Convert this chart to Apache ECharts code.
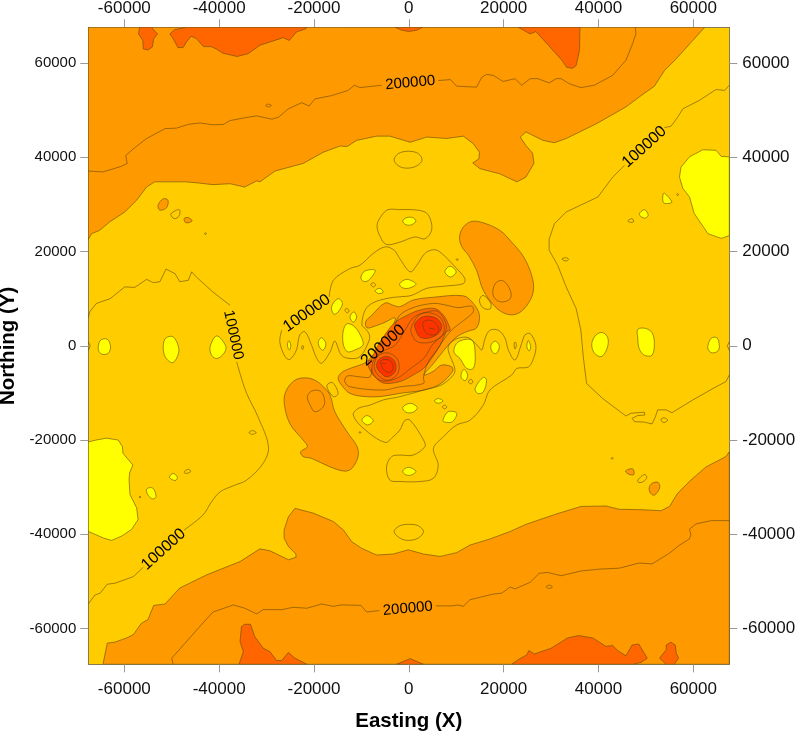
<!DOCTYPE html>
<html>
<head>
<meta charset="utf-8">
<title>Contour map</title>
<script src="https://cdn.jsdelivr.net/npm/echarts@6/dist/echarts.min.js"></script>
<style>
html, body { margin: 0; padding: 0; background: #fff; }
#chart { width: 796px; height: 731px; }
</style>
</head>
<body>
<div id="chart"></div>
<script>
// contour outlines, [easting, northing] in thousands
const AXIS_LIMIT = 67600
const tickValues = [-60000, -40000, -20000, 0, 20000, 40000, 60000]

// 150000 band and blobs
const orangePatches = [
    [[-67.6,22.6],[-66.9,23.8],[-65.2,24.5],[-63.1,26.3],[-59.9,28.4],[-57.4,30.9],[-55.3,33.7],[-53.6,34.8],[-50.4,34.8],[-47.2,34.8],[-44.8,34.6],[-41.3,34.2],[-37.7,34.4],[-34.6,33.7],[-32.1,35],[-31.4,34.8],[-28.2,37.1],[-22.3,38.7],[-18,41.1],[-14.5,42.4],[-13,42.3],[-11,43.6],[-6.8,44.5],[-4,44.5],[0.3,43.2],[3.8,44.3],[8,44],[11.5,44.5],[13.6,42.9],[14.9,41.1],[14.8,39.7],[13.5,38.8],[15,37.6],[19.2,36.5],[22.8,34.8],[24.7,35.8],[26.4,38.7],[26.1,40.9],[24.7,42.5],[23.5,44.3],[24.7,45.4],[28.3,43.6],[30.7,43.1],[33.2,44],[39.5,47.1],[45.8,50.7],[49,53.1],[51.8,55.1],[53.9,58.4],[56.4,60.9],[62.4,67.6],[-67.6,67.6]],
    [[-64.5,-67.6],[-63.6,-63.1],[-62,-62.9],[-59.5,-62],[-58.1,-61.3],[-56.4,-58.9],[-55,-58.1],[-53.8,-55.1],[-51.4,-54.8],[-48.3,-51.4],[-42.6,-48.6],[-35.6,-45.8],[-31.4,-43.1],[-29.3,-43.5],[-25.4,-45.4],[-23.8,-44.9],[-23.8,-44.2],[-25.4,-42.6],[-26.3,-40.8],[-26.3,-39.1],[-25.4,-36.3],[-24,-34.5],[-20.2,-35.5],[-15.9,-37.3],[-13.8,-39.1],[-12,-41.6],[-9.9,-43],[-6.8,-44.4],[-3.3,-44.2],[-0.1,-43.3],[3.1,-44.2],[6.6,-44.7],[10.1,-43.9],[12.9,-42.3],[17.1,-41],[21.4,-39.4],[24.7,-37.9],[31.1,-35.7],[36.3,-34.1],[41.6,-34],[44.4,-34.7],[49.4,-34.8],[53.2,-35],[55,-34.1],[56.7,-31.3],[59.5,-28.5],[62.7,-25.7],[65.2,-24.4],[66.9,-23.5],[67.6,-22.5],[67.6,-67.6]],
    // blob right of centre
    [[10.7,23.1],[11.5,25.2],[13.3,26.4],[15.7,26.1],[19.2,24.5],[21.7,22],[24.2,18.9],[25.9,15],[26.3,11.8],[25.2,9],[23.1,6.9],[20.7,6.7],[18.2,8.3],[15.7,11.8],[14.3,16],[12.6,19.2],[11.2,21]],
    // blob left of centre
    [[-26.3,-11.9],[-25.8,-9.4],[-24,-7.3],[-21.9,-6.8],[-19.8,-7.3],[-18,-8.7],[-16.6,-10.5],[-15.6,-14],[-12.8,-18.6],[-10.9,-21.4],[-10.7,-23.5],[-12,-26],[-13.5,-26.6],[-16.6,-25.7],[-20.5,-23.9],[-22.3,-23.5],[-22.8,-22.5],[-21.4,-21.4],[-22.3,-20],[-25.1,-16.5]],
    // centre
    [[-14.9,-6.9],[-14.2,-5.7],[-12.4,-4.8],[-9.2,-3.6],[-7.8,-2.2],[-5.7,0.1],[-4,2.9],[-2.9,5.9],[-5,5],[-7.1,4.2],[-8.8,3.8],[-9.1,5.1],[-7.8,6.5],[-5,9.1],[-3.3,8.6],[-1.9,8.3],[0.9,9.7],[5.2,10.3],[11.5,10.6],[13.6,9],[14.9,6.5],[14.3,3.8],[12.5,3.1],[10.4,2.1],[8.3,0.1],[6.6,-2],[4.9,-4.1],[3.2,-6.2],[5.2,-5.4],[6.9,-4.1],[9.1,-4.5],[9.2,-5.5],[6.6,-8.1],[3.1,-9.4],[-1.9,-10.1],[-5.4,-10.7],[-8.9,-10.8],[-12.4,-10.1],[-14.2,-8.3]],
    // small islands
    [[-52.9,29.8],[-51.8,31.2],[-50.8,30.9],[-51.1,29.3],[-52.5,28.8]],
    [[-47.4,27],[-46.5,27.2],[-45.7,26.5],[-47,26.1]],
    [[45.7,-26.6],[47.2,-26.1],[47.5,-27.3],[46.5,-27.3]],
    [[50.7,-30.2],[51.3,-29.2],[52.6,-29],[52.9,-30.2],[51.8,-31.7],[51,-31.3]]
]

// 250000 areas
const darkOrangePatches = [
    [[-56.8,67.6],[-57,66.2],[-56.1,64.8],[-56,63],[-55,62.8],[-54.1,63.4],[-53.8,65.2],[-53,66.2],[-54.3,67.6]],
    [[-50.4,66.2],[-49.7,65.2],[-48.7,63.3],[-47.6,63.3],[-46.9,64.5],[-45.9,65.7],[-44.8,65.2],[-43.3,63.5],[-41.7,63.5],[-40.6,63],[-39.2,62.1],[-36.2,61.4],[-33.9,62],[-32.2,63.2],[-31.4,63.8],[-26.5,65.4],[-25.2,64.8],[-23.7,66.6],[-21.7,67.3],[-21.5,67.6],[-46.9,67.6],[-49.4,67.1]],
    [[-2.9,67.6],[-1.5,67],[0,66.7],[1.7,67],[2.9,67.6]],
    [[23.1,67.6],[25.6,66.2],[26.8,66.7],[28.9,64.4],[32.3,60.6],[33.3,59.1],[34.6,58.9],[35.3,59.5],[36,62.7],[36.1,67.6]],
    [[-35.8,-67.6],[-34.9,-64.9],[-35.6,-62.8],[-35.3,-59.6],[-34.6,-59.1],[-33.4,-59.1],[-32.5,-61.7],[-30.7,-64.2],[-29.3,-64.9],[-27.9,-66.8],[-26.8,-66.8],[-25.4,-65.1],[-24,-66.3],[-21.5,-67.6]],
    [[-2.6,-67.6],[0.3,-66.4],[3.1,-67.6]],
    [[21.7,-67.6],[23.1,-66.6],[24.9,-65.6],[25.3,-64.7],[26.5,-65.4],[30,-64.2],[33.5,-62],[35.8,-61.5],[38.8,-62],[41.6,-63.8],[43,-63.6],[44.1,-64.7],[45.8,-65.8],[47.1,-63.5],[48.5,-63.3],[50.3,-66.3],[49,-67.2],[47.2,-67.6]],
    [[52.9,-66.3],[54.3,-64.5],[54.3,-63.5],[55.3,-62.9],[56.2,-63.5],[56.4,-65.2],[56.9,-66.3],[56,-67.6],[54.3,-67.6]],
    [[2.4,7.6],[5.5,7.9],[7.3,6.5],[8.3,4.7],[8.7,3.3],[8,3],[6.6,0.1],[4.8,-2.7],[3.1,-4.8],[0.9,-6.2],[-1.9,-7.6],[-5.4,-7.9],[-7.3,-6.4],[-8.4,-4.7],[-8.6,-3.2],[-8,-3],[-6.6,-0.1],[-4.8,2.7],[-3.1,4.8],[-0.9,6.2]]
]

// peaks
const redPatches = [
    [[1.3,4.7],[3.1,6.2],[5.7,5.9],[6.9,4.4],[6.5,2.9],[4.5,1.7],[2.4,1.8],[1.5,3.3]],
    [[-6.8,-4.1],[-6.1,-2.7],[-4.3,-2.3],[-2.9,-3.4],[-2.9,-5.5],[-4.7,-6.6],[-6.4,-5.2]]
]

// lowest areas
const yellowPatches = [
    [[67.6,40.1],[65.9,40.2],[64.8,41.5],[62,41.6],[59.2,40.1],[57.4,37.9],[57.1,35.8],[57.8,33.4],[59.2,31.6],[60.2,28.1],[63.1,23.8],[65.9,22.8],[67.6,23.4]],
    [[-67.6,-20.4],[-65.9,-20],[-63.8,-19.6],[-61.3,-20],[-60.4,-21.4],[-60.3,-22.8],[-58.2,-25.3],[-58.9,-27],[-59,-28.5],[-58.9,-30.2],[-58.8,-31.6],[-57.4,-34.4],[-57.1,-36.9],[-58.5,-39],[-60.6,-40.4],[-62.7,-41.3],[-64.4,-40.8],[-67.6,-39.4]],
    [[38.6,0.5],[39.5,2.3],[40.9,2.8],[42,1.6],[41.8,-0.6],[40.6,-2.3],[39.1,-1.5]],
    [[48.3,3.5],[49.9,3.7],[51.3,2.8],[51.8,0.5],[51.3,-2],[49.7,-2],[48.6,-0.6],[48.3,1.6]],
    [[63.1,0.1],[63.8,1.6],[65,1.7],[65.5,0.1],[65.2,-1.1],[64,-1.5],[63.2,-0.9]],
    [[-65.5,-0.2],[-65,1.2],[-63.6,1.4],[-62.9,-0.2],[-63.4,-1.6],[-64.6,-1.8],[-65.3,-1.3]],
    [[-51.8,-0.2],[-51.3,1.6],[-49.7,1.9],[-48.5,-0.6],[-49,-2.7],[-50,-3.6],[-51.4,-2.3]],
    [[-41.9,-0.2],[-40.5,2.1],[-38.6,-0.1],[-39,-1.6],[-40.5,-2.7],[-41.6,-2]],
    [[53.6,32],[53.9,32.4],[55.5,30.5],[54.6,30.2],[53.7,30.4]],
    [[48.6,27.9],[49.7,28.9],[50.5,27.7],[49.7,27.1]],
    [[-55.3,-30.4],[-54,-30.2],[-53.3,-32],[-54,-32.5],[-55,-31.7]],
    [[-50.5,-27.9],[-49.7,-27.1],[-48.8,-27.9],[-49.3,-28.6]],
    [[-1.3,26.5],[-0.4,27.2],[0.8,27.2],[1.5,26.5],[0.6,25.7],[-0.6,25.7]],
    [[7.6,15.7],[8.7,16.9],[10,15.7],[8.8,14.6]],
    [[-1.9,13.2],[-0.4,14.1],[1.5,13.1],[-0.1,12.2],[-1.5,12.4]],
    [[-10.1,14.6],[-9.2,15.9],[-7.1,16],[-8.5,13.9],[-9.6,13.7]],
    [[-7.1,11.7],[-6.1,12.2],[-5.4,11.4],[-6.4,11.1]],
    [[-16.3,8.3],[-14.9,10],[-14,9],[-14.9,7.2],[-15.8,6.7]],
    [[-12.4,6.1],[-11.6,7.2],[-11,6.1],[-11.7,5]],
    [[-13.9,0.8],[-13.8,3.3],[-13,4.7],[-11.4,4],[-9.9,1.6],[-9.7,0.1],[-11.4,-0.9],[-12.8,-1.3],[-13.5,-0.6]],
    [[-19.1,0.8],[-18.4,1.7],[-17.5,0.5],[-18,-0.9],[-18.7,-0.5]],
    [[-25.6,0.1],[-25.3,1.1],[-24.9,0.1],[-25.2,-0.9]],
    [[9.5,-1.3],[10.4,0.8],[13.3,1.2],[14,-2],[13.6,-4.8],[12.2,-4.8],[10.8,-2.7]],
    [[11,-6.6],[11.6,-5],[12.4,-6.2],[11.9,-7.4]],
    [[14,-9],[15.7,-6.7],[16.4,-7.3],[15.7,-9.8],[14.5,-10.1]],
    [[17.3,0],[18.2,1],[19.1,0],[18.5,-1.6],[17.7,-1.4]],
    [[24.9,-0.2],[25.2,1.1],[25.7,-0.2],[25.4,-1.1]],
    [[5.4,-11.7],[6.2,-11.2],[7.2,-11.7],[6.2,-12.2]],
    [[7.2,-15.8],[8.3,-14],[10.1,-14.3],[9.2,-16.1],[7.6,-16.2]],
    [[-1.3,-13.1],[0.3,-12.2],[1.8,-13.1],[0.9,-14.1],[-0.6,-14.1]],
    [[-1.3,-26.6],[-0.1,-25.8],[1.5,-26.6],[0.6,-27.4],[-0.6,-27.4]],
    [[-9.9,-15.8],[-8.8,-14.8],[-7.5,-15.9],[-8.7,-16.8]]
]

// contours that don't change the fill: 100000 and 200000 pieces, broken at the labels
const openContours = [
    [[67.6,55.3],[66.6,54.2],[64.8,54.4],[61.3,52.1],[57.8,50.3],[56.7,48.5],[55.3,46.6],[53.9,46.3]],
    [[45.5,38.3],[43,35.8],[39.9,31.6],[33.2,28.4],[30.7,25.9],[29.6,22.6],[29.6,20.3],[31.4,17.1],[33.2,12.5],[35.3,7.9],[36.3,3.3],[36.8,-2.3],[37.5,-8],[40.9,-11.2],[45.8,-14.9],[46.9,-14.3],[49.7,-14.1],[49.8,-14.7],[48.3,-14.8],[47.1,-15.4],[47.6,-16.1],[49.7,-16.2],[51.3,-16.6],[52,-15.1],[52.5,-13.6],[54.3,-13.6],[55.5,-14.2],[59.9,-11.5],[64.8,-8.7],[66.9,-7.6],[67.6,-6.2]],
    [[-67.6,-54.8],[-66.2,-52.9],[-65.1,-52.5],[-63.6,-50.6],[-62,-50.4],[-58.1,-49],[-56,-47]],
    [[-47.4,-39.1],[-43.4,-35.9],[-41.6,-33.1],[-39.8,-31],[-37,-29.7],[-34.2,-28.5],[-30.7,-24.9],[-29.6,-21.4],[-31.8,-15.1],[-34.2,-10.1],[-35.6,-5.9],[-36.3,-3.4]],
    [[-37.7,8.6],[-41.3,11.4],[-44.8,14.6],[-45.8,15.7],[-46.5,13.9],[-48.3,13.6],[-49.3,15.3],[-51.2,16.3],[-52.5,13.6],[-53.9,13.4],[-55.3,14.1],[-57.8,12.4],[-59.9,12.5],[-63,10],[-65.9,9],[-67.3,7.2],[-67.6,6]],
    [[-67.6,37.1],[-64.5,36.9],[-60.6,38.1],[-59.4,38.7],[-59.7,40.4],[-58.1,41.8],[-55.3,44],[-51.4,46.1],[-49,46.2],[-46.5,47],[-44.1,47.3],[-41.3,46.9],[-39.1,47],[-37.7,47.8],[-34.6,48.4],[-32.1,48.8],[-28.9,48.1],[-27.5,48.5],[-25.4,50.3],[-22.6,51.6],[-21,50.9],[-19.8,52.4],[-16.3,53.1],[-12.8,54.2],[-11.5,55.3],[-10.3,54.8],[-5.7,55.3]],
    [[6.2,56.3],[8.8,56.5],[10.1,55.1],[14.3,54.9],[15.4,57],[16.4,57.6],[17.8,57.4],[19.9,56.1],[22.4,56.7],[23.8,55.3],[25.6,56.7],[27.2,56.7],[29.6,55.8],[31.1,56.7],[32.1,56.7],[33.9,55.6],[36.3,54.8],[39.1,55.3],[43,57.4],[45.8,60.6],[47.2,64.1],[47.9,66.2],[47.8,67.6]],
    [[-49.7,-67.6],[-50,-66.3],[-44.1,-59.6],[-41.3,-56.5],[-37,-55],[-34.6,-55.7],[-32.1,-56.9],[-30.7,-56],[-26.8,-56],[-24.4,-55.5],[-21.5,-55.7],[-18.4,-54.8],[-15.9,-55.3],[-14.2,-55],[-10.1,-55.1],[-8.9,-56.5],[-6.2,-56.2]],
    [[5.7,-55.2],[9.1,-55.2],[10.4,-55],[11.5,-55.3],[12.9,-53.9],[17.8,-52.7],[19.6,-52.5],[21.4,-51.2],[22.4,-51.6],[25.6,-50.2],[27.5,-48.3],[29.3,-48.1],[32.1,-48.8],[36.3,-47.8],[40.2,-47.4],[44.4,-47.2],[48.6,-46.1],[51.3,-46.3],[55,-44],[57.1,-42.3],[59.2,-41],[59.5,-40.1],[59.2,-38.9],[60.6,-37.8],[63.8,-37.1],[67.6,-37.1]],
    // loop around the upper left yellow spots
    [[-16.8,10.4],[-15.9,13.9],[-12.4,16.4],[-10.3,17.1],[-7.5,19.6],[-5,21],[-3.1,20.3],[-1.9,18.5],[0.3,15.7],[1.7,17.1],[3.4,19.6],[5.2,20.4],[6.6,19.9],[10.1,16.4],[11.8,14.3],[11.5,13.2],[8,12.7],[3.8,12.2],[0.6,10.7],[-1.9,10.4],[-4.4,10.1],[-7.6,9.1],[-9.2,7.6],[-9.9,4.4],[-9.2,3.7],[-8.3,2.3],[-8.5,0.8],[-10.3,-2.3],[-12.4,-2.7],[-14.2,-2],[-15.6,1],[-16.6,-1.3],[-18.4,-3.7],[-19.4,-2.7],[-20.5,0.1],[-21.9,3],[-23,2.3],[-23.7,-0.9],[-25.1,-2.9],[-26.1,-2.3],[-27.2,0.8],[-26.8,3.3]],
    // 200000 inside the centre, gap at its label
    [[-2.9,4.4],[-1.9,6.5],[0.9,8.1],[5.2,9],[8,8.6],[10.4,8.1],[13.3,8.4],[13.6,7.2],[11.5,5.3],[9.4,3.7],[7.6,1.6],[5.9,-0.9],[4.1,-3.4],[3.1,-6.6],[3.1,-8],[-1.9,-8.7],[-5.4,-9.4],[-12.4,-8.7],[-13.5,-7.6],[-13,-6.4],[-10.3,-6.6],[-8.2,-6.6],[-7.8,-4.8]],
    // short arcs at the plot edges and peak marks
    [[-67.6,0.9],[-67.2,0],[-67.6,-1]],
    [[67.6,0.9],[67.2,0],[67.6,-1]],
    [[4.2,3.8],[5.6,3.5]],
    [[-5.6,-3.7],[-4.8,-3.8]]
]

const closedContours = [
    // around the lower right yellow spots
    [[-11.7,-14.7],[-9.6,-17.5],[-5,-20.5],[-3.3,-19.3],[-1.9,-17.9],[-0.8,-15.8],[0.3,-15.8],[3.1,-20],[3.4,-21.4],[0.9,-23.2],[-1.9,-23.2],[-3.6,-23.5],[-4.7,-25.7],[-4,-28.5],[-1.9,-28.8],[2.4,-28.8],[5.2,-28.1],[6.2,-25.3],[5.2,-21.8],[7.3,-19.3],[10.1,-16.8],[12.9,-15.8],[15.7,-12.6],[17.1,-9.4],[21.7,-6.2],[22.8,-4.8],[25.2,-4.5],[26.3,-2.7],[26.8,0.1],[25.6,2.6],[24.5,2.3],[23.8,0.5],[22.4,-3],[21,-0.9],[20.3,1.6],[18.9,3.3],[17.1,3.3],[16.1,1.6],[15.4,-0.9],[14.7,-0.2],[12.6,1.7],[10.4,1.6],[8.7,0.5],[8.3,-0.9],[9.7,-4.8],[9.4,-6.2],[6.9,-8.3],[3.1,-9.4],[-1.9,-10.8],[-5.4,-11.5],[-8.2,-12.6],[-10.7,-13.3]],
    [[-1.9,28.9],[-4.4,28.9],[-5.7,27.7],[-6.7,25.6],[-6,23.1],[-4.7,21.5],[-1.9,22],[1.3,23.1],[3.4,22.7],[4.8,24.5],[4.5,27],[3.4,28.4],[0.6,28.9]],
    [[-3.1,39.5],[-2.2,40.8],[-0.1,41.3],[2,40.8],[2.8,39.4],[1.7,38.2],[-0.4,37.7],[-2.2,38.2]],
    [[-3.1,-39.4],[-1.9,-38.2],[0,-37.9],[2,-38.2],[3.1,-39.4],[2,-40.8],[-0.1,-41.3],[-1.9,-40.8]],
    // inside the blobs
    [[17.7,11.4],[18.4,13.4],[19.9,13.8],[21.4,11.8],[21.4,10],[19.6,9.3],[18.2,10]],
    [[-21.4,-10.8],[-20.5,-9.6],[-18.7,-9.6],[-17.8,-11.2],[-18,-12.9],[-19.8,-14],[-20.8,-12.6]],
    // rings round the peaks
    [[-7.8,-4.7],[-6.9,-2.2],[-5,-0.9],[-2.9,0.1],[-0.8,3.3],[0.9,5.9],[3.2,7],[6,7.3],[7.8,4.8],[7.6,2.7],[5.1,0.4],[3.2,-2.6],[0.5,-4.7],[-2.3,-6.8],[-5.2,-7.5],[-7.1,-6.6]],
    [[0.5,3.8],[2.6,6.8],[6,6.5],[7.4,4.4],[7.1,2.3],[4.7,0.8],[1.9,0.8],[0.7,2.3]],
    [[-7.3,-4.3],[-6.5,-2.2],[-4.4,-1.5],[-2.3,-3],[-2.3,-5.8],[-4.4,-7.3],[-6.5,-6.2]],
    [[3,5],[4.7,5.4],[6.2,4],[6,2.7],[4.7,2.3],[3.4,3.1]],
    [[-5.9,-3.2],[-4.2,-3],[-3.3,-4.3],[-3.8,-5.6],[-5.2,-5.2]],
    // small rings
    [[-30.2,51],[-29.6,51.3],[-29,51],[-29.6,50.7]],
    [[29,-51.1],[29.7,-50.8],[30.3,-51.2],[29.6,-51.5]],
    [[-50.2,27.9],[-49,28.8],[-48.3,28.8],[-48.5,27.5],[-49.5,27]],
    [[-47.4,-26.8],[-46.5,-26.2],[-46,-26.7],[-47,-27.1]],
    [[-33.7,-18.4],[-33,-18],[-32.2,-18.4],[-33,-18.8]],
    [[32.3,18.4],[33,18.7],[33.7,18.4],[33.2,18]],
    [[53.2,-15.6],[53.9,-15.3],[54.6,-15.8],[53.7,-16.3]],
    [[46.2,26.5],[47.1,27],[47.4,26.3],[46.7,26.2]],
    [[48.3,-28.5],[49.7,-27.3],[50.2,-27.9],[49.5,-28.8],[48.5,-29]],
    [[-8,13],[-7.5,13.4],[-7,12.9],[-7.5,12.5]],
    [[-13.5,7.6],[-13,7.9],[-12.6,7.4],[-13,7]],
    [[14.9,9.7],[15.7,10.7],[17.3,9],[17.1,7.8],[15.6,8.1]],
    [[-17.3,-8.5],[-16.1,-7.8],[-14.9,-10.1],[-15.9,-10.8]],
    [[12.6,-7.6],[13.1,-7.1],[13.5,-7.6],[13.1,-8.1]],
    [[7.1,-12.9],[7.6,-12.6],[8,-13],[7.5,-13.4]],
    [[22.4,0.8],[22.7,0.3],[22.4,-0.7],[22.2,0.2]],
    [[-22.5,0],[-22.2,-0.1],[-22.4,-0.8],[-22.6,-0.4]],
    [[-43.1,23.8],[-42.9,24],[-42.7,23.8],[-42.9,23.6]],
    [[-56.9,-32.1],[-56.7,-31.9],[-56.5,-32.1],[-56.7,-32.3]],
    [[56.5,32.1],[56.7,32.3],[56.9,32.1],[56.7,31.9]],
    [[42.7,-23.9],[42.9,-23.7],[43.1,-23.9],[42.9,-24.1]],
    [[10,18.3],[10.2,18.5],[10.4,18.3],[10.2,18.1]],
    [[-10.5,-18.4],[-10.3,-18.2],[-10.1,-18.4],[-10.3,-18.6]]
]

// label text, where it sits, and how far it leans
const contourLabels = ['200000', '200000', '100000', '100000', '100000', '100000', '200000']
const labelPoints = [[0.3,55.8],[-0.2,-55.8],[49.7,42.2],[-51.7,-43.2],[-37,2.3],[-21.5,6.9],[-5.4,0.1]]
const labelAngles = [5, 5, 42, 42, -78, 35, 42]

const LINE_COLOR = 'rgba(88, 66, 10, 0.8)'
const FONT = '"Liberation Sans", Arial, sans-serif'

function toMetres(pt) {
    return [pt[0] * 1000, pt[1] * 1000]
}

// shapes cut by the plot edge keep sharp corners, the rest get rounded
function touchesEdge(points) {
    return points.some(pt => Math.abs(pt[0]) >= 67 || Math.abs(pt[1]) >= 67)
}

function polyItem(points, api, closed, fill) {
    const shapePoints = points.map(pt => api.coord(toMetres(pt)))
    return {
        type: closed ? 'polygon' : 'polyline',
        shape: { points: shapePoints, smooth: touchesEdge(points) ? 0 : 0.35 },
        style: {
            fill: fill || 'none',
            stroke: LINE_COLOR,
            lineWidth: 0.7
        }
    }
}

function contourSeries(shapes, closed, fill) {
    return {
        type: 'custom',
        coordinateSystem: 'cartesian2d',
        clip: true,
        silent: true,
        animation: false,
        data: shapes.map((s, i) => [i, 0]),
        renderItem(params, api) {
            return polyItem(shapes[params.dataIndex], api, closed, fill)
        }
    }
}

const labelSeries = {
    type: 'custom',
    coordinateSystem: 'cartesian2d',
    silent: true,
    animation: false,
    z: 5,
    data: contourLabels.map((s, i) => [i, 0]),
    renderItem(params, api) {
        const i = params.dataIndex
        const pos = api.coord(toMetres(labelPoints[i]))
        const lean = Math.abs(labelAngles[i])
        return {
            type: 'text',
            x: pos[0],
            y: pos[1],
            rotation: labelAngles[i] * Math.PI / 180,
            style: {
                text: contourLabels[i],
                fill: '#000',
                // the flat and upright labels read a little narrower
                font: (lean < 10 || lean > 70 ? '15px ' : '16px ') + FONT,
                textAlign: 'center',
                textVerticalAlign: 'middle'
            }
        }
    }
}

const plainNumber = v => String(v)

function xAxis(position, margin, name) {
    return {
        type: 'value',
        position,
        min: -AXIS_LIMIT,
        max: AXIS_LIMIT,
        name,
        nameLocation: 'middle',
        nameGap: 47,
        nameTextStyle: { color: '#000', fontFamily: FONT, fontWeight: 'bold', fontSize: 20.5 },
        splitLine: { show: false },
        axisLine: { onZero: false, lineStyle: { color: '#8a7a50', width: 1 } },
        axisTick: { length: 8, lineStyle: { color: '#999' }, customValues: tickValues },
        axisLabel: { margin, color: '#111', fontFamily: FONT, fontSize: 17, formatter: plainNumber, customValues: tickValues }
    }
}

function yAxis(position, margin, fontSize, name) {
    return {
        type: 'value',
        position,
        min: -AXIS_LIMIT,
        max: AXIS_LIMIT,
        name,
        nameLocation: 'middle',
        nameGap: 67,
        nameTextStyle: { color: '#000', fontFamily: FONT, fontWeight: 'bold', fontSize: 20.5 },
        splitLine: { show: false },
        axisLine: { onZero: false, lineStyle: { color: '#8a7a50', width: 1 } },
        axisTick: { length: 8, lineStyle: { color: '#999' }, customValues: tickValues },
        axisLabel: { margin, color: '#111', fontFamily: FONT, fontSize, formatter: plainNumber, customValues: tickValues }
    }
}

const chart = echarts.init(document.getElementById('chart'), null, { renderer: 'canvas' })
chart.setOption({
    animation: false,
    backgroundColor: '#fff',
    grid: {
        left: 88.3,
        right: 66.7,
        top: 27.3,
        bottom: 66.7,
        outerBoundsMode: 'none',
        show: true,
        backgroundColor: '#FFCC00',
        borderWidth: 0
    },
    xAxis: [xAxis('bottom', 17, 'Easting (X)'), xAxis('top', 10, '')],
    yAxis: [yAxis('left', 12, 15, 'Northing (Y)'), yAxis('right', 13, 17, '')],
    series: [
        contourSeries(orangePatches, true, '#FF9900'),
        contourSeries(darkOrangePatches, true, '#FF6600'),
        contourSeries(redPatches, true, '#FF3300'),
        contourSeries(yellowPatches, true, '#FFFF00'),
        contourSeries(openContours, false),
        contourSeries(closedContours, true),
        labelSeries
    ]
})
</script>
</body>
</html>
